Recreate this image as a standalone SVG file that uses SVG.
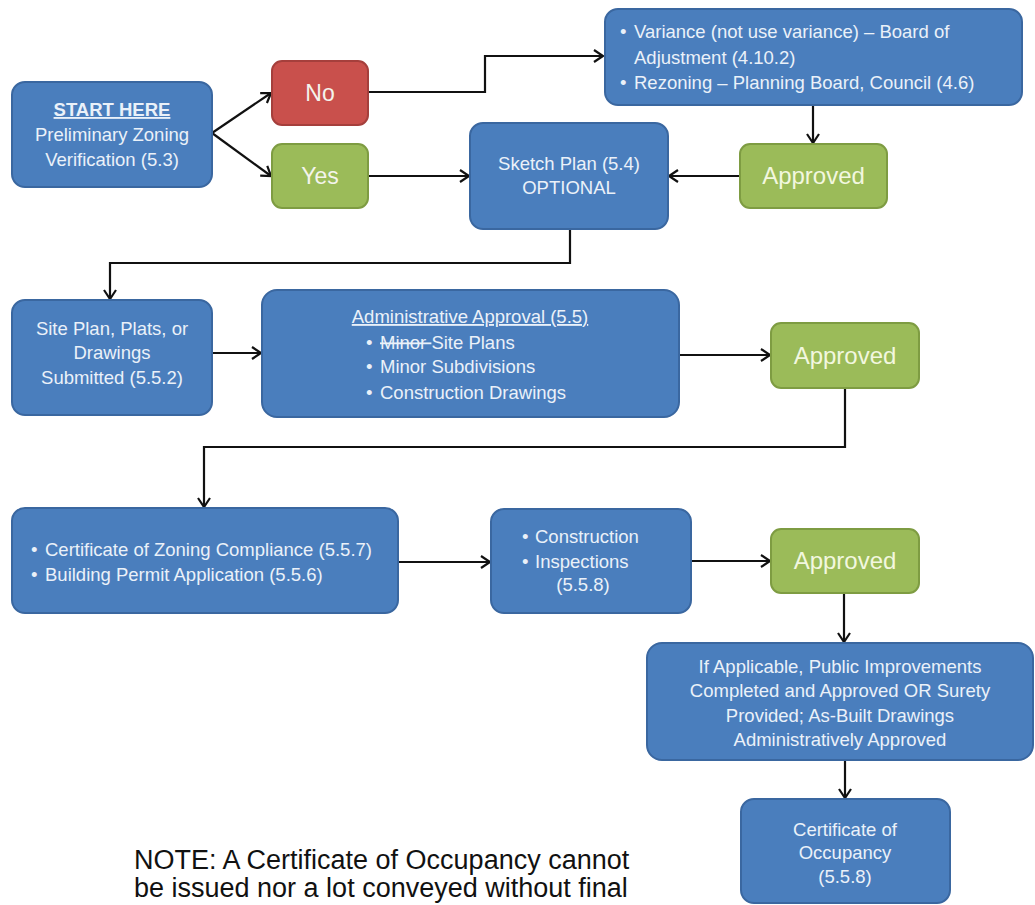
<svg xmlns="http://www.w3.org/2000/svg" width="1035" height="905" viewBox="0 0 1035 905">
<defs>
<marker id="arr" markerUnits="userSpaceOnUse" markerWidth="14" markerHeight="16" refX="11" refY="8" orient="auto">
<path d="M2,2 L11,8 L2,14" fill="none" stroke="#111" stroke-width="2.2" stroke-linejoin="miter"/>
</marker>
<style>
.blue{fill:#4A7EBD;stroke:#3A67A0;stroke-width:2}
.green{fill:#9BBB59;stroke:#7E9C42;stroke-width:2}
.red{fill:#C9504C;stroke:#A53F3C;stroke-width:2}
.t{font-family:"Liberation Sans",Arial,sans-serif;font-size:18.5px;fill:#EAF1F9}
.c{text-anchor:middle}
.big{font-size:24px;fill:#F2F7DF}
.yn{font-size:23px;fill:#F4F4EC}
.conn path{fill:none;stroke:#111;stroke-width:2.2;marker-end:url(#arr)}
.note{font-family:"Liberation Sans",Arial,sans-serif;font-size:27px;fill:#111}
</style>
</defs>
<rect width="1035" height="905" fill="#FFFFFF"/>
<g class="conn" id="connectors">
<path d="M212,133 L271,93"/>
<path d="M212,133 L271,176"/>
<path d="M368,92 H485 V56 H603"/>
<path d="M368,176 H469"/>
<path d="M813,105 V143"/>
<path d="M740,176 H669"/>
<path d="M570,229 V263 H110 V299"/>
<path d="M212,353 H261"/>
<path d="M679,355 H770"/>
<path d="M845,389 V447 H204 V507"/>
<path d="M398,562 H490"/>
<path d="M691,561 H770"/>
<path d="M844,593 V642"/>
<path d="M845,760 V798"/>
</g>
<g id="start">
<rect class="blue" x="12" y="82" width="200" height="105" rx="13"/>
<text class="t c" x="112" y="116" font-weight="bold" text-decoration="underline">START HERE</text>
<text class="t c" x="112" y="141">Preliminary Zoning</text>
<text class="t c" x="112" y="166">Verification (5.3)</text>
</g>
<g id="no">
<rect class="red" x="272" y="61" width="96" height="64" rx="10"/>
<text class="t c yn" x="320" y="101">No</text>
</g>
<g id="yes">
<rect class="green" x="272" y="144" width="96" height="64" rx="10"/>
<text class="t c yn" x="320" y="184">Yes</text>
</g>
<g id="variance">
<rect class="blue" x="605" y="9" width="417" height="96" rx="13"/>
<text class="t" x="620" y="38">•</text>
<text class="t" x="634" y="38">Variance (not use variance) – Board of</text>
<text class="t" x="634" y="64">Adjustment (4.10.2)</text>
<text class="t" x="620" y="89">•</text>
<text class="t" x="634" y="89">Rezoning – Planning Board, Council (4.6)</text>
</g>
<g id="approved1">
<rect class="green" x="740" y="144" width="147" height="64" rx="10"/>
<text class="t c big" x="813.5" y="184">Approved</text>
</g>
<g id="sketch">
<rect class="blue" x="470" y="123" width="198" height="106" rx="13"/>
<text class="t c" x="569" y="170" font-size="17">Sketch Plan (5.4)</text>
<text class="t c" x="569" y="194" font-size="17">OPTIONAL</text>
</g>
<g id="site">
<rect class="blue" x="12" y="300" width="200" height="115" rx="13"/>
<text class="t c" x="112" y="335">Site Plan, Plats, or</text>
<text class="t c" x="112" y="359">Drawings</text>
<text class="t c" x="112" y="384">Submitted (5.5.2)</text>
</g>
<g id="admin">
<rect class="blue" x="262" y="290" width="417" height="127" rx="15"/>
<text class="t c" x="470" y="323" text-decoration="underline">Administrative Approval (5.5)</text>
<text class="t" x="366" y="349">•</text>
<text class="t" x="380" y="349"><tspan text-decoration="line-through">Minor </tspan>Site Plans</text>
<text class="t" x="366" y="373">•</text>
<text class="t" x="380" y="373">Minor Subdivisions</text>
<text class="t" x="366" y="399">•</text>
<text class="t" x="380" y="399">Construction Drawings</text>
</g>
<g id="approved2">
<rect class="green" x="771" y="323" width="148" height="65" rx="10"/>
<text class="t c big" x="845" y="364">Approved</text>
</g>
<g id="zoning">
<rect class="blue" x="12" y="508" width="386" height="105" rx="13"/>
<text class="t" x="31" y="556">•</text>
<text class="t" x="45" y="556">Certificate of Zoning Compliance (5.5.7)</text>
<text class="t" x="31" y="581">•</text>
<text class="t" x="45" y="581">Building Permit Application (5.5.6)</text>
</g>
<g id="construction">
<rect class="blue" x="491" y="509" width="200" height="104" rx="13"/>
<text class="t" x="522" y="543">•</text>
<text class="t" x="535" y="543">Construction</text>
<text class="t" x="522" y="568">•</text>
<text class="t" x="535" y="568">Inspections</text>
<text class="t c" x="583" y="591">(5.5.8)</text>
</g>
<g id="approved3">
<rect class="green" x="771" y="529" width="148" height="64" rx="10"/>
<text class="t c big" x="845" y="569">Approved</text>
</g>
<g id="improvements">
<rect class="blue" x="647" y="643" width="386" height="117" rx="15"/>
<text class="t c" x="840" y="673">If Applicable, Public Improvements</text>
<text class="t c" x="840" y="697">Completed and Approved OR Surety</text>
<text class="t c" x="840" y="722">Provided; As-Built Drawings</text>
<text class="t c" x="840" y="746">Administratively Approved</text>
</g>
<g id="occupancy">
<rect class="blue" x="741" y="799" width="209" height="104" rx="13"/>
<text class="t c" x="845" y="836">Certificate of</text>
<text class="t c" x="845" y="859">Occupancy</text>
<text class="t c" x="845" y="883">(5.5.8)</text>
</g>
<g id="note">
<text class="note" x="134" y="869">NOTE: A Certificate of Occupancy cannot</text>
<text class="note" x="134" y="897">be issued nor a lot conveyed without final</text>
</g>
</svg>
